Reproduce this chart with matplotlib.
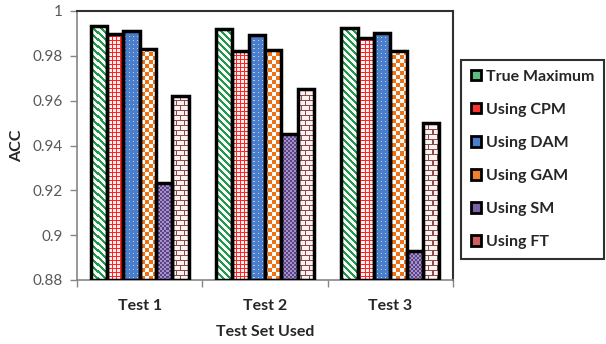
import numpy as np
import matplotlib
matplotlib.use('Agg')
import matplotlib.pyplot as plt
from matplotlib.patches import Patch

plt.rcParams['font.family'] = ['Lato', 'DejaVu Sans']

tests = ['Test 1', 'Test 2', 'Test 3']
methods = ['True Maximum', 'Using CPM', 'Using DAM', 'Using GAM', 'Using SM', 'Using FT']
true_max = [0.9934, 0.9918, 0.9923]
cpm = [0.9896, 0.9822, 0.9878]
dam = [0.9912, 0.9893, 0.9900]
gam = [0.9829, 0.9826, 0.9822]
sm = [0.9233, 0.9451, 0.8930]
ft = [0.9620, 0.9651, 0.9502]
series = [true_max, cpm, dam, gam, sm, ft]
ymin = 0.88

W, H = 606, 344


def hexrgb(h):
    h = h.lstrip('#')
    return np.array([int(h[i:i + 2], 16) / 255 for i in (0, 2, 4)])


def pat_stripes(X, Y):
    img = np.ones(X.shape + (3,))
    m = ((X - Y) % 7) < 3
    img[m] = hexrgb('#1f9a48')
    return img


def pat_gingham(X, Y):
    img = np.ones(X.shape + (3,)) * hexrgb('#fff0f0')
    m = (X % 4 == 0) | (Y % 4 == 0)
    img[m] = hexrgb('#ff2424')
    return img


def pat_dots(X, Y):
    img = np.ones(X.shape + (3,)) * hexrgb('#4a7dca')
    m = (X % 4 == 1) & (Y % 4 == 1)
    img[m] = hexrgb('#b4cdf0')
    return img


def pat_checker(X, Y):
    img = np.ones(X.shape + (3,))
    m = ((X // 4) + (Y // 4)) % 2 == 0
    img[m] = hexrgb('#f07014')
    return img


def pat_fine_check(X, Y):
    img = np.ones(X.shape + (3,)) * hexrgb('#5c4286')
    m = ((X // 2) + (Y // 2)) % 2 == 0
    img[m] = hexrgb('#a391c8')
    return img


def pat_brick(X, Y):
    img = np.ones(X.shape + (3,)) * hexrgb('#fbf2f2')
    row = Y // 5
    m = (Y % 5 == 0) | ((X + 4 * (row % 2)) % 8 == 0)
    img[m] = hexrgb('#8e4a4a')
    return img


patterns = [pat_stripes, pat_gingham, pat_dots, pat_checker, pat_fine_check, pat_brick]
legend_colors = ['#5cbf7c', '#ff3030', '#4a7dca', '#f08030', '#7a62a8', '#d06060']

fig = plt.figure(figsize=(W / 100, H / 100), dpi=100)
ax = fig.add_axes([77 / W, (H - 280) / H, (453 - 77) / W, (280 - 11) / H])
ax.set_xlim(-0.5, 2.5)
ax.set_ylim(ymin, 1.0)
ax.set_autoscale_on(False)

x = np.arange(len(tests))
width = 0.13
inv = ax.transData.inverted()

for i, vals in enumerate(series):
    offs = (i - 2.5) * width
    heights = np.array(vals) - ymin
    bars = ax.bar(x + offs, heights, width, bottom=ymin, facecolor='none',
                  edgecolor='black', linewidth=2.5, zorder=3)
    # fill each bar with a pixel pattern clipped to the bar outline
    for bar in bars:
        bb = bar.get_window_extent()
        cols = np.arange(int(np.floor(bb.x0)), int(np.ceil(bb.x1)))
        rows = np.arange(int(np.ceil(bb.y1)) - 1, int(np.floor(bb.y0)) - 1, -1)
        X, Y = np.meshgrid(cols, H - 1 - rows)
        img = patterns[i](X, Y)
        (l, b) = inv.transform((cols[0], rows[-1]))
        (r, t) = inv.transform((cols[-1] + 1, rows[0] + 1))
        im = ax.imshow(img, extent=[l, r, b, t], origin='upper',
                       interpolation='nearest', aspect='auto', zorder=2)
        im.set_clip_path(bar)

ax.set_xlim(-0.5, 2.5)
ax.set_ylim(ymin, 1.0)

yt = np.arange(0.88, 1.001, 0.02)
ax.set_yticks(yt)
ax.set_yticklabels([f'{v:g}' for v in np.round(yt, 2)], fontsize=11, color='#595959')
ax.tick_params(axis='y', direction='out', length=5, width=1, colors='#868686',
               labelcolor='#595959', pad=5)

ax.set_xticks(x)
ax.set_xticklabels(tests, fontsize=11.5, fontweight='bold', color='#262626')
ax.set_xticks([-0.5, 0.5, 1.5, 2.5], minor=True)
ax.tick_params(axis='x', which='major', length=0, pad=14)
ax.tick_params(axis='x', which='minor', direction='out', length=5, width=1, colors='#868686')

for s in ['left', 'bottom']:
    ax.spines[s].set_color('#868686')
    ax.spines[s].set_linewidth(1.2)
for s in ['top', 'right']:
    ax.spines[s].set_color('#303030')
    ax.spines[s].set_linewidth(1.5)

ax.set_xlabel('Test Set Used', fontsize=11.5, fontweight='bold', color='#262626', labelpad=8)
ax.set_ylabel('ACC', fontsize=11.5, fontweight='bold', color='#262626', labelpad=6)

handles = [Patch(facecolor=c, edgecolor='black', linewidth=2) for c in legend_colors]
leg = fig.legend(handles, methods, loc='upper left', bbox_to_anchor=(461 / W, 1 - 60 / H),
                 prop={'weight': 'bold', 'size': 11.5}, handlelength=0.65, handleheight=0.65,
                 handletextpad=0.3, labelspacing=1.2, borderpad=0.6, fancybox=False,
                 framealpha=1, edgecolor='#303030', borderaxespad=0)
leg.get_frame().set_linewidth(1.5)
for t in leg.get_texts():
    t.set_color('#262626')

fig.savefig('out.png', dpi=100)
